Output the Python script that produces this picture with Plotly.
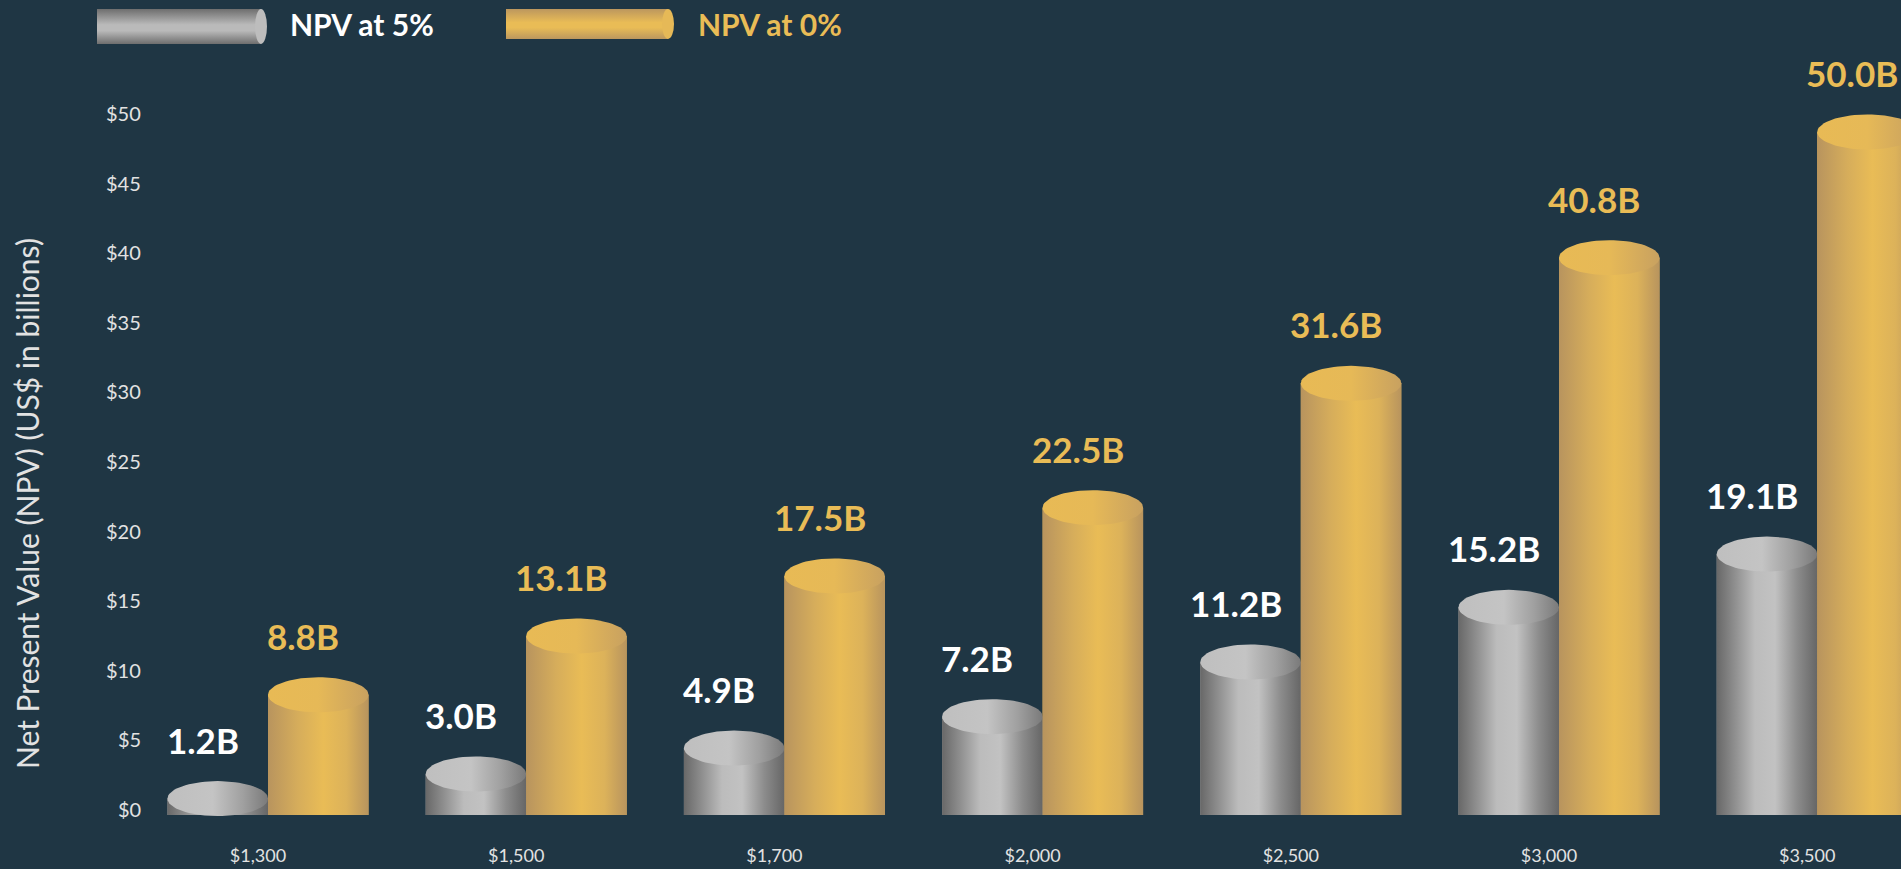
import base64
import numpy as np
import plotly.graph_objects as go

# ---------------- data ----------------
categories = ["$1,300", "$1,500", "$1,700", "$2,000", "$2,500", "$3,000", "$3,500"]
npv_5 = [1.2, 3.0, 4.9, 7.2, 11.2, 15.2, 19.1]
npv_0 = [8.8, 13.1, 17.5, 22.5, 31.6, 40.8, 50.0]
series_names = ["NPV at 5%", "NPV at 0%"]
y_tickvals = [0, 5, 10, 15, 20, 25, 30, 35, 40, 45, 50]
y_ticktext = ["$0", "$5", "$10", "$15", "$20", "$25", "$30", "$35", "$40", "$45", "$50"]
y_title = "Net Present Value (NPV) (US$ in billions)"

# ---------------- layout geometry / style ----------------
W, H = 1901, 869
BG = "#1f3644"
GOLD = "#e9bc56"
TXT = "#e2e2e2"
PL, PT, PB = 146, 40, 850           # plot area pixel box (right edge = W)
CAT0, STEP = 268.0, 258.2            # first category centre, category spacing (px)
TICK_ZERO, TICK_SCALE = 809.0, 13.92  # tick-label axis calibration
BAR_ZERO, BAR_SCALE = 815.0, 13.66    # bar axis calibration (3D depth offset)
BAR_W = 100.5 / STEP
CAP_RY = 17.5 / BAR_SCALE

x_range = [-(CAT0 - PL) / STEP, (W - CAT0) / STEP]
y_range = [-(PB - TICK_ZERO) / TICK_SCALE, (TICK_ZERO - PT) / TICK_SCALE]
y2_range = [-(PB - BAR_ZERO) / BAR_SCALE, (BAR_ZERO - PT) / BAR_SCALE]

gray_body = [[0, "#686868"], [0.18, "#8f8f8f"], [0.38, "#bcbcbc"], [0.58, "#c2c2c2"],
             [0.8, "#8c8c8c"], [1, "#666666"]]
gray_cap = [[0, "#bfbfbf"], [0.45, "#c4c4c4"], [0.75, "#a0a0a0"], [1, "#7a7a7a"]]
gold_body = [[0, "#b8945e"], [0.3, "#d6ad5b"], [0.55, "#e9bc56"], [0.78, "#dcb25a"],
             [1, "#b8945e"]]
gold_cap = [[0, "#e8ba55"], [0.5, "#e6b957"], [1, "#c8a160"]]

styles = [
    dict(vals=npv_5, side=-1, mid="#a8a8a8", body=gray_body, cap=gray_cap, label="#ffffff"),
    dict(vals=npv_0, side=1, mid="#d9b05a", body=gold_body, cap=gold_cap, label=GOLD),
]

fig = go.Figure()

# base bars (solid), drawn through the axes
for st, name in zip(styles, series_names):
    xs = [i + st["side"] * BAR_W / 2 for i in range(len(categories))]
    fig.add_trace(go.Bar(x=xs, y=st["vals"], width=BAR_W, name=name,
                         marker=dict(color=st["mid"], line=dict(width=0)),
                         xaxis="x", yaxis="y2", hoverinfo="skip", showlegend=False))

# cylinder shading: gradient body + elliptical cap
t = np.linspace(0, 2 * np.pi, 73)
annotations = []
for i in range(len(categories)):
    for st in styles:
        v = st["vals"][i]
        xc = i + st["side"] * BAR_W / 2
        xl, xr = xc - BAR_W / 2, xc + BAR_W / 2
        fig.add_trace(go.Scatter(
            x=[xl, xr, xr, xl, xl], y=[0, 0, v, v, 0], mode="lines", fill="toself",
            fillgradient=dict(type="horizontal", colorscale=st["body"]),
            line=dict(width=0, color="rgba(0,0,0,0)"), xaxis="x", yaxis="y2",
            hoverinfo="skip", showlegend=False))
        fig.add_trace(go.Scatter(
            x=xc + BAR_W / 2 * np.cos(t), y=v + CAP_RY * np.sin(t), mode="lines",
            fill="toself", fillgradient=dict(type="horizontal", colorscale=st["cap"]),
            line=dict(width=0, color="rgba(0,0,0,0)"), xaxis="x", yaxis="y2",
            hoverinfo="skip", showlegend=False))
        annotations.append(dict(
            x=xc, y=v, xref="x", yref="y2", text=f"{v:.1f}B", showarrow=False,
            xanchor="center", yanchor="middle", xshift=-15, yshift=59,
            font=dict(family="Lato, sans-serif", size=35,
                      color=st["label"], weight="bold")))

# y tick labels (placed on the value axis)
for tv, tt in zip(y_tickvals, y_ticktext):
    annotations.append(dict(x=143 / W, y=tv, xref="paper", yref="y", text=tt,
                            showarrow=False, xanchor="right", yanchor="middle",
                            font=dict(family="Lato, sans-serif", size=20, color=TXT)))

# y axis title
annotations.append(dict(x=27 / W, y=1 - 504 / H, xref="paper", yref="paper", text=y_title,
                        textangle=-90, showarrow=False, xanchor="center", yanchor="middle",
                        font=dict(family="Lato, sans-serif", size=30, color=TXT)))

# legend texts
annotations.append(dict(x=288 / W, y=1 - 24 / H, xref="paper", yref="paper",
                        text=series_names[0], showarrow=False, xanchor="left",
                        yanchor="middle",
                        font=dict(family="Lato, sans-serif", size=30, color="#ffffff",
                                  weight="bold")))
annotations.append(dict(x=696 / W, y=1 - 24 / H, xref="paper", yref="paper",
                        text=series_names[1], showarrow=False, xanchor="left",
                        yanchor="middle",
                        font=dict(family="Lato, sans-serif", size=30, color=GOLD,
                                  weight="bold")))


def cyl_icon(w, h, c_edge, c_mid, c_end):
    svg = (f"<svg xmlns='http://www.w3.org/2000/svg' width='{w}' height='{h}' "
           f"viewBox='0 0 {w} {h}' preserveAspectRatio='none'><defs>"
           f"<linearGradient id='g' x1='0' y1='0' x2='0' y2='1'>"
           f"<stop offset='0' stop-color='{c_edge}'/><stop offset='0.45' stop-color='{c_mid}'/>"
           f"<stop offset='0.62' stop-color='{c_mid}'/><stop offset='1' stop-color='{c_edge}'/>"
           f"</linearGradient></defs>"
           f"<rect x='0' y='0' width='{w - 6}' height='{h}' fill='url(#g)'/>"
           f"<ellipse cx='{w - 6}' cy='{h / 2}' rx='6' ry='{h / 2}' fill='{c_end}'/></svg>")
    return "data:image/svg+xml;base64," + base64.b64encode(svg.encode()).decode()


images = [
    dict(source=cyl_icon(170, 35, "#6e6e6e", "#bababa", "#bdbdbd"), xref="paper",
         yref="paper", x=97 / W, y=1 - 9 / H, sizex=170 / W, sizey=35 / H,
         xanchor="left", yanchor="top", sizing="stretch", layer="above"),
    dict(source=cyl_icon(168, 30, "#bc975e", "#e9bc56", "#e6b957"), xref="paper",
         yref="paper", x=506 / W, y=1 - 9 / H, sizex=168 / W, sizey=30 / H,
         xanchor="left", yanchor="top", sizing="stretch", layer="above"),
]

fig.update_layout(
    width=W, height=H,
    margin=dict(l=0, r=0, t=0, b=0, pad=0),
    paper_bgcolor=BG, plot_bgcolor=BG,
    barmode="overlay", showlegend=False,
    font=dict(family="Lato, sans-serif", color=TXT),
    xaxis=dict(domain=[PL / W, 1], range=x_range, tickmode="array",
               tickvals=list(range(len(categories))), ticktext=categories,
               showgrid=False, zeroline=False, showline=False, ticks="",
               ticklabelshift=-10, ticklabelstandoff=-7, ticklabeloverflow="allow",
               tickfont=dict(family="Lato, sans-serif", size=18, color=TXT),
               automargin=False, fixedrange=True),
    yaxis=dict(domain=[1 - PB / H, 1 - PT / H], range=y_range, showticklabels=False,
               showgrid=False, zeroline=False, showline=False, ticks="",
               automargin=False, fixedrange=True),
    yaxis2=dict(domain=[1 - PB / H, 1 - PT / H], range=y2_range, overlaying="y",
                visible=False, showgrid=False, zeroline=False, fixedrange=True),
    annotations=annotations,
    images=images,
)

fig.write_html("out.html",
               config={"displayModeBar": False},
               post_script="document.body.style.margin='0px';"
                           "document.body.style.overflow='hidden';")
